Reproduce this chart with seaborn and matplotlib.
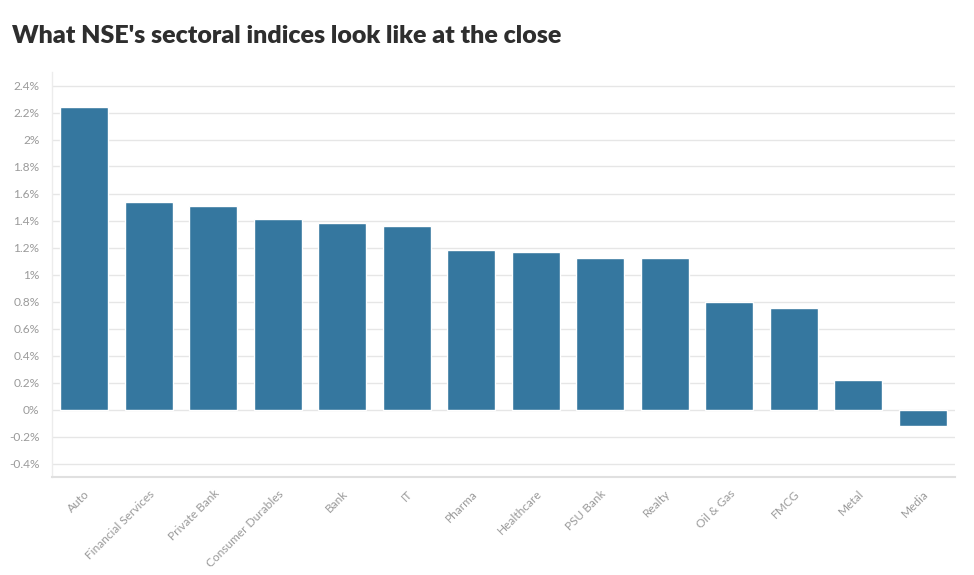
import matplotlib
matplotlib.use("Agg")
import matplotlib.pyplot as plt
import seaborn as sns
import pandas as pd
from matplotlib.ticker import FuncFormatter, MultipleLocator

# Sector index change at close (%)
sectors = ["Auto", "Financial Services", "Private Bank", "Consumer Durables", "Bank",
           "IT", "Pharma", "Healthcare", "PSU Bank", "Realty", "Oil & Gas", "FMCG",
           "Metal", "Media"]
changes = [2.24, 1.54, 1.51, 1.41, 1.38, 1.36, 1.18, 1.17, 1.12, 1.12, 0.80, 0.75, 0.22, -0.12]

df = pd.DataFrame({"Sector": sectors, "Change": changes})

sns.set_style("white")
plt.rcParams["font.family"] = ["Lato", "DejaVu Sans"]

fig = plt.figure(figsize=(9.74, 5.75), dpi=100)
ax = fig.add_axes([52 / 974, 1 - 477 / 575, (955 - 52) / 974, (477 - 72) / 575])

sns.barplot(data=df, x="Sector", y="Change", color="#35779f", saturation=1,
            width=0.745, ax=ax, zorder=3)

ax.set_ylim(-0.5, 2.5)
ax.set_xlim(-0.5, len(sectors) - 0.5)
ax.yaxis.set_major_locator(MultipleLocator(0.2))
ax.yaxis.set_major_formatter(FuncFormatter(lambda v, p: f"{v:.1f}".rstrip("0").rstrip(".") + "%"
                                           if abs(v) > 1e-9 else "0%"))
ax.set_yticks([t for t in ax.get_yticks() if -0.45 < t < 2.45])
ax.grid(axis="y", color="#e6e6e6", linewidth=1, zorder=0)

ax.set_xlabel("")
ax.set_ylabel("")
for s in ["top", "right"]:
    ax.spines[s].set_visible(False)
ax.spines["left"].set_color("#ececec")
ax.spines["bottom"].set_color("#e0e0e0")
ax.spines["left"].set_linewidth(1)
ax.spines["bottom"].set_linewidth(1.5)

ax.tick_params(axis="y", length=6, color="#e6e6e6", labelcolor="#9a9a9a", labelsize=8.6, pad=3)
ax.tick_params(axis="x", length=5, color="#e0e0e0", labelcolor="#9a9a9a", labelsize=8.6, pad=3)
plt.setp(ax.get_xticklabels(), rotation=45, ha="right", rotation_mode="anchor")

fig.text(12 / 974, 1 - 36 / 575, "What NSE's sectoral indices look like at the close",
         fontsize=18, fontweight="heavy", color="#2e2e2e", va="center", ha="left")

fig.savefig("out.png", dpi=100, facecolor="white")
